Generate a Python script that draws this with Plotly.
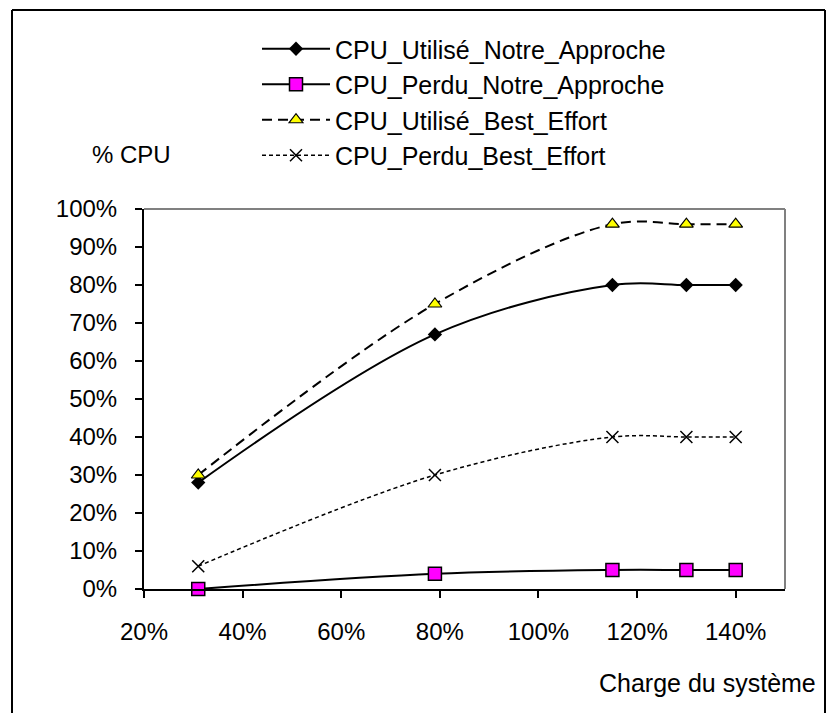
import plotly.graph_objects as go

# ---- data ----
charge = [31, 79, 115, 130, 140]
cpu_utilise_notre = [28, 67, 80, 80, 80]
cpu_perdu_notre = [0, 4, 5, 5, 5]
cpu_utilise_be = [30, 75, 96, 96, 96]
cpu_perdu_be = [6, 30, 40, 40, 40]
series_names = ["CPU_Utilisé_Notre_Approche", "CPU_Perdu_Notre_Approche",
                "CPU_Utilisé_Best_Effort", "CPU_Perdu_Best_Effort"]
x_ticks = [20, 40, 60, 80, 100, 120, 140]
y_ticks = [0, 10, 20, 30, 40, 50, 60, 70, 80, 90, 100]

FONT = "Liberation Sans, Arial, sans-serif"
FS = 24
FS_LEG = 25
W, H = 827, 713
L, R, T, B = 144, 42, 209, 124
pw, ph = W - L - R, H - T - B

def px_x(px):
    return (px - L) / pw

def px_y(py):
    return (H - B - py) / ph

fig = go.Figure()

fig.add_trace(go.Scatter(
    x=charge, y=cpu_utilise_notre, name=series_names[0], legendgroup="a",
    mode="lines+markers", line=dict(color="black", width=2, shape="spline", smoothing=1),
    marker=dict(symbol="diamond", size=11, color="black"), cliponaxis=False))
fig.add_trace(go.Scatter(
    x=charge, y=cpu_perdu_notre, name=series_names[1], legendgroup="b",
    mode="lines+markers", line=dict(color="black", width=2, shape="spline", smoothing=1),
    marker=dict(symbol="square", size=13, color="#FF00FF", line=dict(color="black", width=1.5)),
    cliponaxis=False))
fig.add_trace(go.Scatter(
    x=charge, y=cpu_utilise_be, name=series_names[2], legendgroup="c",
    mode="lines+markers", line=dict(color="black", width=2, dash="10px,6px", shape="spline", smoothing=1),
    marker=dict(symbol="triangle-up", size=12, color="#FFFF00", line=dict(color="black", width=1.2)),
    cliponaxis=False))
fig.add_trace(go.Scatter(
    x=charge, y=cpu_perdu_be, name=series_names[3], legendgroup="d",
    mode="lines+markers", line=dict(color="black", width=1.5, dash="4px,3px", shape="spline", smoothing=1),
    marker=dict(symbol="x-thin-open", size=12, color="black", line=dict(color="black", width=1.5)),
    cliponaxis=False))

shapes = [
    # gray plot area border (top, right)
    dict(type="line", xref="paper", yref="paper", x0=0, x1=1, y0=1, y1=1,
         line=dict(color="#808080", width=2), layer="below"),
    dict(type="line", xref="paper", yref="paper", x0=1, x1=1, y0=0, y1=1,
         line=dict(color="#808080", width=2), layer="below"),
    # outer chart frame (left, top, right)
    dict(type="line", xref="paper", yref="paper", x0=px_x(12), x1=px_x(12),
         y0=px_y(10), y1=px_y(H + 5), line=dict(color="black", width=2)),
    dict(type="line", xref="paper", yref="paper", x0=px_x(12), x1=px_x(825),
         y0=px_y(10), y1=px_y(10), line=dict(color="black", width=2)),
    dict(type="line", xref="paper", yref="paper", x0=px_x(825), x1=px_x(825),
         y0=px_y(10), y1=px_y(H + 5), line=dict(color="black", width=2)),
]

annotations = [
    dict(text="% CPU", xref="paper", yref="paper", x=px_x(131), y=px_y(154),
         xanchor="center", yanchor="middle", showarrow=False,
         font=dict(family=FONT, size=FS, color="black")),
    dict(text="Charge du système", xref="paper", yref="paper", x=px_x(818), y=px_y(683),
         xanchor="right", yanchor="middle", showarrow=False,
         font=dict(family=FONT, size=25, color="black")),
]

fig.update_layout(
    width=W, height=H,
    margin=dict(l=L, r=R, t=T, b=B),
    paper_bgcolor="white", plot_bgcolor="white",
    font=dict(family=FONT, size=FS, color="black"),
    showlegend=True,
    legend=dict(x=px_x(257), y=px_y(26), xanchor="left", yanchor="top",
                bgcolor="rgba(0,0,0,0)", itemwidth=68, tracegroupgap=0,
                font=dict(family=FONT, size=FS_LEG, color="black")),
    shapes=shapes,
    annotations=annotations,
    xaxis=dict(range=[20, 150], tickvals=x_ticks, ticktext=[f"{v}%" for v in x_ticks],
               showgrid=False, zeroline=False, showline=True, linecolor="black", linewidth=2,
               ticks="outside", ticklen=7, tickwidth=2, tickcolor="black",
               ticklabelstandoff=13, fixedrange=True),
    yaxis=dict(range=[0, 100], tickvals=y_ticks, ticktext=[f"{v}%" for v in y_ticks],
               showgrid=False, zeroline=False, showline=True, linecolor="black", linewidth=2,
               ticks="outside", ticklen=7, tickwidth=2, tickcolor="black",
               ticklabelstandoff=13, fixedrange=True),
)

fig.write_html("out.html",
               config={"displayModeBar": False},
               post_script="document.body.style.margin='0px';document.body.style.padding='0px';")
